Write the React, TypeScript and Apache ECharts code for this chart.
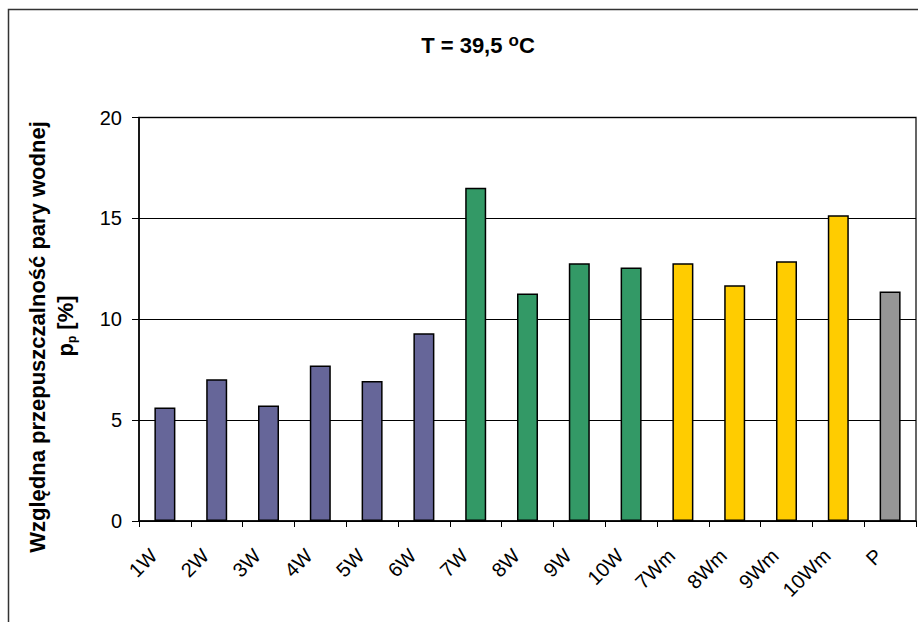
import React, { useEffect, useRef } from 'react';
import * as echarts from 'echarts';

const categories = ['1W', '2W', '3W', '4W', '5W', '6W', '7W', '8W', '9W', '10W', '7Wm', '8Wm', '9Wm', '10Wm', 'P'];
const values = [5.63, 7.02, 5.73, 7.71, 6.94, 9.3, 16.52, 11.28, 12.77, 12.57, 12.77, 11.68, 12.87, 15.15, 11.38];
const barColors = [
  '#666699', '#666699', '#666699', '#666699', '#666699', '#666699',
  '#339966', '#339966', '#339966', '#339966',
  '#FFCC00', '#FFCC00', '#FFCC00', '#FFCC00',
  '#969696',
];
const yMin = 0;
const yMax = 20;
const yStep = 5;

const FONT = '"Liberation Sans", Arial, sans-serif';

export default function App() {
  const ref = useRef<HTMLDivElement>(null);

  useEffect(() => {
    document.body.style.margin = '0';
    if (!ref.current) return;
    const chart = echarts.init(ref.current, null, { renderer: 'svg' });
    chart.setOption({
      animation: false,
      backgroundColor: '#ffffff',
      textStyle: { fontFamily: FONT },
      grid: {
        left: 139,
        right: 2,
        top: 117.5,
        bottom: 101,
        show: true,
        borderColor: '#333333',
        borderWidth: 1.5,
        backgroundColor: 'transparent',
      },
      graphic: [
        {
          type: 'rect',
          silent: true,
          z: -10,
          shape: { x: 8.5, y: 9.5, width: 912, height: 620 },
          style: { fill: 'none', stroke: '#333333', lineWidth: 1.5 },
        },
        {
          type: 'text',
          x: 478,
          y: 45,
          style: {
            text: '{a|T = 39,5 }{s|o}{a|C}',
            align: 'center',
            verticalAlign: 'middle',
            rich: {
              a: { fontSize: 22, fontWeight: 'bold', fontFamily: FONT, fill: '#000', lineHeight: 26 },
              s: { fontSize: 17, fontWeight: 'bold', fontFamily: FONT, fill: '#000', lineHeight: 14, verticalAlign: 'top' },
            },
          },
        },
        {
          type: 'text',
          x: 37,
          y: 337,
          rotation: Math.PI / 2,
          style: {
            text: 'Względna przepuszczalność pary wodnej',
            align: 'center',
            verticalAlign: 'middle',
            fontSize: 22,
            fontWeight: 'bold',
            fontFamily: FONT,
            fill: '#000',
          },
        },
        {
          type: 'text',
          x: 65,
          y: 326,
          rotation: Math.PI / 2,
          style: {
            text: '{a|p}{b|p}{a| [%]}',
            align: 'center',
            verticalAlign: 'middle',
            rich: {
              a: { fontSize: 22, fontWeight: 'bold', fontFamily: FONT, fill: '#000', lineHeight: 26 },
              b: { fontSize: 12, fontWeight: 'bold', fontFamily: FONT, fill: '#000', lineHeight: 12, verticalAlign: 'bottom' },
            },
          },
        },
      ],
      xAxis: {
        type: 'category',
        data: categories,
        axisLine: { show: true, lineStyle: { color: '#000', width: 1.5 } },
        axisTick: { show: true, length: 6, interval: 0, lineStyle: { color: '#000', width: 1 } },
        axisLabel: {
          interval: 0,
          rotate: 45,
          fontSize: 20,
          fontFamily: FONT,
          color: '#000',
          margin: 20,
          padding: [0, 16, 0, 0],
        },
        splitLine: { show: false },
      },
      yAxis: {
        type: 'value',
        min: yMin,
        max: yMax,
        interval: yStep,
        axisLine: { show: true, lineStyle: { color: '#000', width: 1.5 } },
        axisTick: { show: true, length: 7, lineStyle: { color: '#000', width: 1 } },
        axisLabel: { fontSize: 20, fontFamily: FONT, color: '#000', margin: 17 },
        splitLine: { show: true, lineStyle: { color: '#000', width: 1 } },
      },
      series: [
        {
          type: 'bar',
          barWidth: 21,
          data: values.map((v, i) => ({
            value: v,
            itemStyle: { color: barColors[i], borderColor: '#000', borderWidth: 1.5 },
          })),
        },
      ],
    });
    return () => chart.dispose();
  }, []);

  return <div ref={ref} style={{ width: 918, height: 622 }} />;
}
